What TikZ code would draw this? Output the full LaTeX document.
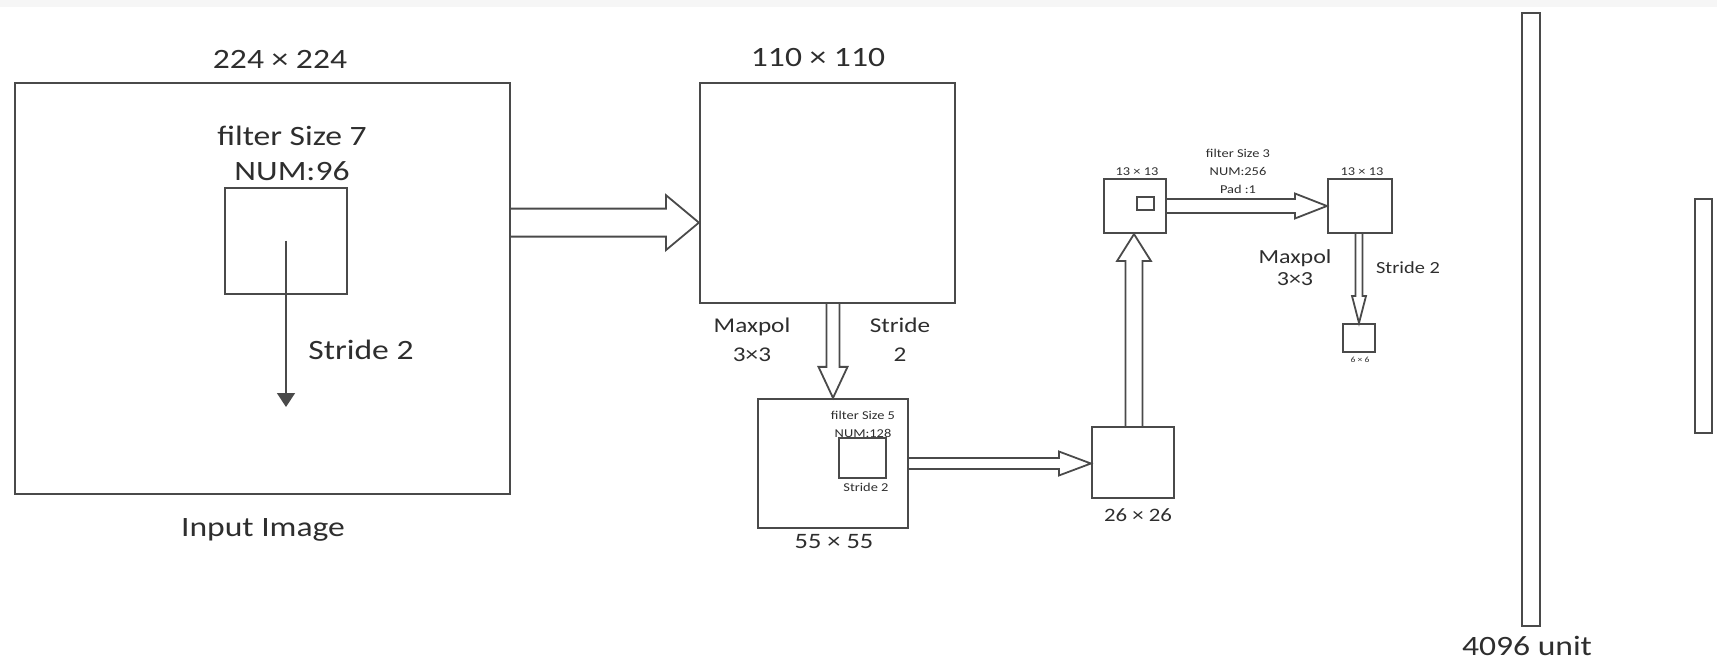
\documentclass[tikz,border=0pt]{standalone}
\usepackage{fontspec}
\setmainfont{Carlito}[FakeStretch=1.2]
\usetikzlibrary{calc,arrows.meta}
\definecolor{fmline}{HTML}{4A4A4A}
\definecolor{fmtext}{HTML}{2E2E2E}
\tikzset{
  fmap/.style={draw=fmline, line width=1.1pt, fill=white, inner sep=0pt},
  fmsize/.style 2 args={minimum width=#1*0.5pt, minimum height=#2*0.5pt},
  hollow/.style={draw=fmline, line width=0.9pt, line join=miter, fill=white},
  stridearrow/.style={-{Triangle[width=9pt,length=7pt]}, draw=fmline, fill=fmline, line width=0.75pt},
  lbl/.style={text=fmtext, align=center, inner sep=0pt},
  lblbig/.style={lbl, font=\fontsize{14}{17.5}\selectfont},
  lblmid/.style={lbl, font=\fontsize{10.5}{14.5}\selectfont},
  lbltiny/.style={lbl, font=\fontsize{6}{9}\selectfont},
}
% hollow block arrow: from, to, shaft half width, head half width, head length
\newcommand{\hollowarrow}[5]{%
  \coordinate (hb) at ($(#2)!#5!(#1)$);
  \draw[hollow] ($(#1)!#3!90:(#2)$) -- ($(hb)!#3!-90:(#1)$) -- ($(hb)!#4!-90:(#1)$)
    -- (#2) -- ($(hb)!#4!90:(#1)$) -- ($(hb)!#3!90:(#1)$) -- ($(#1)!#3!-90:(#2)$);
}
\begin{document}
\begin{tikzpicture}[x=0.5pt, y=-0.5pt]
    \useasboundingbox (0,0) rectangle (1717,662);
    \fill[blue!4!gray!7] (0,0) rectangle (1717,7);
    % feature maps
    \node[fmap, fmsize={495}{411}] (input) at (262.5,288.5) {};
    \node[fmap, fmsize={122}{106}] (k7) at (286,241) {};
    \node[fmap, fmsize={255}{220}] (l110) at (827.5,193) {};
    \node[fmap, fmsize={150}{129}] (l55) at (833,463.5) {};
    \node[fmap, fmsize={47}{40}, line width=1pt] (k5) at (862.5,458) {};
    \node[fmap, fmsize={82}{71}] (l26) at (1133,462.5) {};
    \node[fmap, fmsize={62}{54}] (l13a) at (1135,206) {};
    \node[fmap, fmsize={17}{13}, line width=0.9pt] (k3) at (1145.5,203.5) {};
    \node[fmap, fmsize={64}{54}] (l13b) at (1360,206) {};
    \node[fmap, fmsize={32}{28}, line width=1pt] (l6) at (1359,338) {};
    % fully connected layers
    \node[fmap, fmsize={18}{613}] (fc1) at (1531,319.5) {};
    \node[fmap, fmsize={17}{234}] (fc2) at (1703.5,316) {};
    % stride of the first filter
    \coordinate (stride7) at (286,407);
    \draw[stridearrow] (k7.center) -- (stride7);
    % block arrows between the maps
    \coordinate (a1s) at ($(input.north east)!.3406!(input.south east)$);
    \coordinate (a1e) at (a1s -| l110.west);
    \hollowarrow{a1s}{a1e}{7pt}{13.75pt}{16.5pt}
    \coordinate (a2e) at (l55.north);
    \coordinate (a2s) at (a2e |- l110.south);
    \hollowarrow{a2s}{a2e}{3.25pt}{7.25pt}{15.5pt}
    \coordinate (a3e) at (l55.east -| l26.west);
    \hollowarrow{l55.east}{a3e}{2.75pt}{6pt}{16pt}
    \coordinate (a4s) at ($(l26.north)+(1,0)$);
    \coordinate (a4e) at (a4s |- l13a.south);
    \hollowarrow{a4s}{a4e}{4.25pt}{8.5pt}{13.5pt}
    \hollowarrow{l13a.east}{l13b.west}{3.5pt}{6.25pt}{16pt}
    \coordinate (a6s) at (l6.north |- l13b.south);
    \hollowarrow{a6s}{l6.north}{1.75pt}{3.5pt}{13.5pt}
    % labels
    \node[lblbig] (t224) at (280,59) {224 × 224};
    \node[lblbig] (t7) at (292,153.5) {filter Size 7\\NUM:96};
    \node[lblbig] (ts7) at (361,350) {Stride 2};
    \node[lblbig] (tin) at (263,530) {Input Image};
    \node[lblbig] (t110) at (818,58) {110 × 110};
    \node[lblmid] (tmp1) at (752,339.5) {Maxpol\\3×3};
    \node[lblmid] (tms1) at (900,339.5) {Stride\\2};
    \node[lbltiny] (t5) at (863,424) {filter Size 5\\NUM:128};
    \node[lbltiny] (ts5) at (866,487) {Stride 2};
    \node[lbl, font=\fontsize{11}{13}\selectfont] (t55) at (834,542) {55 × 55};
    \node[lbl, font=\fontsize{9.5}{11}\selectfont] (t26) at (1138,515) {26 × 26};
    \node[lbltiny] (t13a) at (1137,172) {13 × 13};
    \node[lbltiny] (t13b) at (1362,172) {13 × 13};
    \node[lbltiny] (t3) at (1238,171.5) {filter Size 3\\NUM:256\\Pad :1};
    \node[lbl, font=\fontsize{10}{11}\selectfont] (tmp2) at (1295,268) {Maxpol\\3×3};
    \node[lbl, font=\fontsize{8.5}{10}\selectfont] (tms2) at (1408,268) {Stride 2};
    \node[lbl, font=\fontsize{4}{5}\selectfont] (t6) at (1360,360) {6 × 6};
    \node[lblbig] (tfc) at (1527,646) {4096 unit};
\end{tikzpicture}
\end{document}
